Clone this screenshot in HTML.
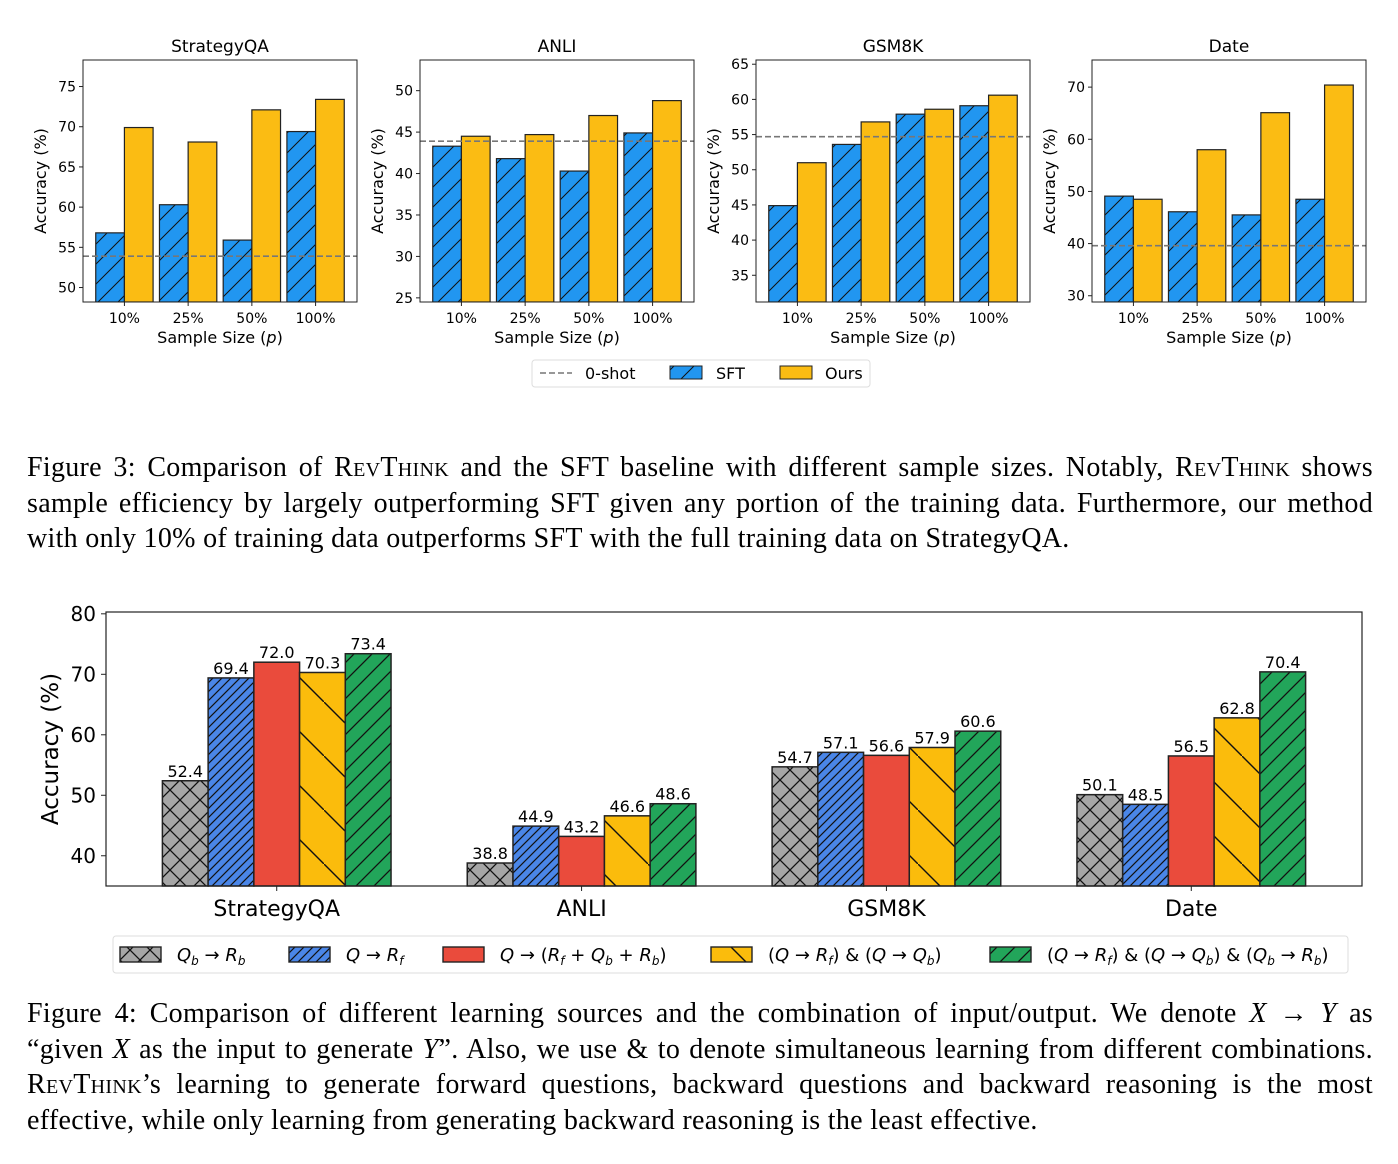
<!DOCTYPE html>
<html><head><meta charset="utf-8">
<style>
body{margin:0;background:#fff;width:1398px;height:1164px;overflow:hidden;position:relative;}
svg{position:absolute;left:0;top:0;}
.cap{position:absolute;left:27px;width:1346px;font-family:"Liberation Serif",serif;font-size:28px;letter-spacing:0.3px;line-height:35.5px;color:#000;}
.cap .ln{white-space:nowrap;text-align:justify;text-align-last:justify;}
.cap .ln.last{text-align-last:left;}
.sc{font-variant:small-caps;}
</style></head><body>
<svg id="fig" width="1398" height="1164" viewBox="0 0 1398 1164" font-family="DejaVu Sans, Liberation Sans, sans-serif">
<defs>
<pattern id="hSFT" patternUnits="userSpaceOnUse" width="20" height="20"><rect width="20" height="20" fill="#2196f0"/><path d="M-5,5 L5,-5 M0,20 L20,0 M15,25 L25,15" stroke="#111" stroke-width="1"/></pattern>
<pattern id="hX" patternUnits="userSpaceOnUse" width="20" height="20"><rect width="20" height="20" fill="#a6a6a6"/><path d="M0,0 L20,20 M0,20 L20,0" stroke="#111" stroke-width="1.3"/></pattern>
<pattern id="hB" patternUnits="userSpaceOnUse" width="9" height="9"><rect width="9" height="9" fill="#4a86e8"/><path d="M-3,3 L3,-3 M0,9 L9,0 M6,12 L12,6" stroke="#111" stroke-width="1.2"/></pattern>
<pattern id="hY" patternUnits="userSpaceOnUse" width="54" height="54"><rect width="54" height="54" fill="#fbbc0c"/><path d="M-10,-10 L64,64" stroke="#111" stroke-width="1.4"/></pattern>
<pattern id="hG" patternUnits="userSpaceOnUse" width="18" height="18"><rect width="18" height="18" fill="#22a55a"/><path d="M-5,5 L5,-5 M0,18 L18,0 M13,23 L23,13" stroke="#111" stroke-width="1.3"/></pattern>
</defs>
<g id="topfig"></g><g id="bottomfig"></g>
</svg>

<div class="cap" style="top:450px">
<div class="ln">Figure 3: Comparison of <span class="sc">RevThink</span> and the SFT baseline with different sample sizes. Notably, <span class="sc">RevThink</span> shows</div>
<div class="ln">sample efficiency by largely outperforming SFT given any portion of the training data. Furthermore, our method</div>
<div class="ln last">with only 10% of training data outperforms SFT with the full training data on StrategyQA.</div>
</div>
<div class="cap" style="top:996px">
<div class="ln">Figure 4: Comparison of different learning sources and the combination of input/output. We denote <i>X</i> → <i>Y</i> as</div>
<div class="ln">“given <i>X</i> as the input to generate <i>Y</i>”. Also, we use &amp; to denote simultaneous learning from different combinations.</div>
<div class="ln"><span class="sc">RevThink</span>’s learning to generate forward questions, backward questions and backward reasoning is the most</div>
<div class="ln last">effective, while only learning from generating backward reasoning is the least effective.</div>
</div>

<script>
const NS="http://www.w3.org/2000/svg";
// ---- Figure 3 data ----
const sizes=["10%","25%","50%","100%"];
const panels=["StrategyQA","ANLI","GSM8K","Date"];
const sftVals=[[56.8,60.3,55.9,69.4],[43.3,41.8,40.3,44.9],[44.9,53.6,57.9,59.1],[49.1,46.1,45.5,48.5]];
const oursVals=[[69.9,68.1,72.1,73.4],[44.5,44.7,47.0,48.8],[51.0,56.8,58.6,60.6],[48.5,58.0,65.1,70.4]];
const zeroShot=[53.9,43.9,54.7,39.6];
const yTicks=[[50,55,60,65,70,75],[25,30,35,40,45,50],[35,40,45,50,55,60,65],[30,40,50,60,70]];
const yLims=[[48.2,78.3],[24.5,53.7],[31.2,65.6],[28.8,75.2]];
// ---- Figure 4 data ----
const datasets=["StrategyQA","ANLI","GSM8K","Date"];
const srcVals=[[52.4,69.4,72.0,70.3,73.4],[38.8,44.9,43.2,46.6,48.6],[54.7,57.1,56.6,57.9,60.6],[50.1,48.5,56.5,62.8,70.4]];
const bTicks=[40,50,60,70,80];

function el(tag,attrs,parent,txt){const e=document.createElementNS(NS,tag);for(const k in attrs)e.setAttribute(k,attrs[k]);if(txt!==undefined)e.textContent=txt;parent.appendChild(e);return e;}

const topG=document.getElementById('topfig');
const pLeft=[83,420,756,1092],pW=274,pT=60,pB=302;
panels.forEach((name,pi)=>{
  const g=el('g',{},topG);
  
  
  const x0=pLeft[pi];
  const lo=yLims[pi][0],hi=yLims[pi][1];
  const y=v=>pB-(v-lo)/(hi-lo)*(pB-pT);
  const x=u=>x0+(u+0.65)/4.3*pW;
  const cp=el('clipPath',{id:'cp'+pi},el('defs',{},g));
  el('rect',{x:x0,y:pT,width:pW,height:pB-pT},cp);
  const bars=el('g',{'clip-path':'url(#cp'+pi+')'},g);
  sizes.forEach((s,i)=>{
    const w=0.45/4.3*pW;
    const b1=el('rect',{x:x(i)-w,y:y(sftVals[pi][i]),width:w,height:pB-y(sftVals[pi][i]),fill:'url(#hSFT)',stroke:'#222','stroke-width':1.2},bars);
    
    
    const b2=el('rect',{x:x(i),y:y(oursVals[pi][i]),width:w,height:pB-y(oursVals[pi][i]),fill:'#fbbc13',stroke:'#222','stroke-width':1.2},bars);
    
    
    el('line',{x1:x(i),x2:x(i),y1:pB,y2:pB+4,stroke:'#222'},g);
    const t=el('text',{x:x(i),y:pB+21,'font-size':14,'text-anchor':'middle'},g,s);
    
    
  });
  const zl=el('line',{x1:x0,x2:x0+pW,y1:y(zeroShot[pi]),y2:y(zeroShot[pi]),stroke:'#777','stroke-width':1.6,'stroke-dasharray':'6,3'},g);
  
  
  yTicks[pi].forEach(v=>{
    el('line',{x1:x0-4,x2:x0,y1:y(v),y2:y(v),stroke:'#222'},g);
    const t=el('text',{x:x0-7,y:y(v)+5,'font-size':14,'text-anchor':'end'},g,v);
    
    
  });
  el('rect',{x:x0,y:pT,width:pW,height:pB-pT,fill:'none',stroke:'#222','stroke-width':1},g);
  const tt=el('text',{x:x0+pW/2,y:52,'font-size':17,'text-anchor':'middle'},g,name);
  
  
  const xl=el('text',{x:x0+pW/2,y:343,'font-size':16,'text-anchor':'middle'},g);
  xl.innerHTML='Sample Size (<tspan font-style="italic">p</tspan>)';
  
  
  const yl=el('text',{x:0,y:0,'font-size':16,'text-anchor':'middle',transform:'translate('+(x0-37)+','+((pT+pB)/2)+') rotate(-90)'},g,'Accuracy (%)');
  
  
});
// top legend
{
  const g=el('g',{},topG);
  
  
  el('rect',{x:532,y:360,width:338,height:27,rx:3,fill:'#fff',stroke:'#ddd'},g);
  el('line',{x1:540,x2:572,y1:373,y2:373,stroke:'#777','stroke-width':1.6,'stroke-dasharray':'6,3'},g);
  el('text',{x:585,y:379,'font-size':16},g,'0-shot');
  el('rect',{x:670,y:366,width:32,height:13,fill:'url(#hSFT)',stroke:'#222'},g);
  el('text',{x:716,y:379,'font-size':16},g,'SFT');
  el('rect',{x:780,y:366,width:32,height:13,fill:'#fbbc13',stroke:'#222'},g);
  el('text',{x:825,y:379,'font-size':16},g,'Ours');
}
// ---- Figure 4 ----
const bot=document.getElementById('bottomfig');
const bL=106,bR=1362,bT=612,bB=886,ylo=35,yhi=80.3;
const by=v=>bB-(v-ylo)/(yhi-ylo)*(bB-bT);
const bx=u=>bL+(u+0.56)/4.12*(bR-bL);
const fills=['url(#hX)','url(#hB)','#ea4b3c','url(#hY)','url(#hG)'];
datasets.forEach((d,gi)=>{
  const w=0.15/4.12*(bR-bL);
  srcVals[gi].forEach((v,si)=>{
    const cx=bx(gi)+(si-2)*w;
    const r=el('rect',{x:cx-w/2,y:by(v),width:w,height:bB-by(v),fill:fills[si],stroke:'#222','stroke-width':1.5},bot);
    
    
    const t=el('text',{x:cx,y:by(v)-4,'font-size':16,'text-anchor':'middle'},bot,v.toFixed(1));
    
    
  });
  el('line',{x1:bx(gi),x2:bx(gi),y1:bB,y2:bB+5,stroke:'#222'},bot);
  const t=el('text',{x:bx(gi),y:916,'font-size':22,'text-anchor':'middle'},bot,d);
  
  
});
bTicks.forEach(v=>{
  el('line',{x1:bL-5,x2:bL,y1:by(v),y2:by(v),stroke:'#222'},bot);
  const t=el('text',{x:bL-10,y:by(v)+7,'font-size':20,'text-anchor':'end'},bot,v);
  
  
});
el('rect',{x:bL,y:bT,width:bR-bL,height:bB-bT,fill:'none',stroke:'#222','stroke-width':1.2},bot);
{
  const yl=el('text',{x:0,y:0,'font-size':23,'text-anchor':'middle',transform:'translate(58,'+((bT+bB)/2)+') rotate(-90)'},bot,'Accuracy (%)');
  
  
  const g=el('g',{},bot);
  
  
  el('rect',{x:113,y:936,width:1235,height:37,rx:3,fill:'#fff',stroke:'#ddd'},g);
  const lx=[120,289,443,711,990];
  const labels=['<tspan font-style="italic">Q</tspan><tspan font-size="12" dy="4" font-style="italic">b</tspan><tspan dy="-4"> → </tspan><tspan font-style="italic">R</tspan><tspan font-size="12" dy="4" font-style="italic">b</tspan>',
   '<tspan font-style="italic">Q</tspan> → <tspan font-style="italic">R</tspan><tspan font-size="12" dy="4" font-style="italic">f</tspan>',
   '<tspan font-style="italic">Q</tspan> → (<tspan font-style="italic">R</tspan><tspan font-size="12" dy="4" font-style="italic">f</tspan><tspan dy="-4"> + </tspan><tspan font-style="italic">Q</tspan><tspan font-size="12" dy="4" font-style="italic">b</tspan><tspan dy="-4"> + </tspan><tspan font-style="italic">R</tspan><tspan font-size="12" dy="4" font-style="italic">b</tspan><tspan dy="-4">)</tspan>',
   '(<tspan font-style="italic">Q</tspan> → <tspan font-style="italic">R</tspan><tspan font-size="12" dy="4" font-style="italic">f</tspan><tspan dy="-4">) &amp; (</tspan><tspan font-style="italic">Q</tspan> → <tspan font-style="italic">Q</tspan><tspan font-size="12" dy="4" font-style="italic">b</tspan><tspan dy="-4">)</tspan>',
   '(<tspan font-style="italic">Q</tspan> → <tspan font-style="italic">R</tspan><tspan font-size="12" dy="4" font-style="italic">f</tspan><tspan dy="-4">) &amp; (</tspan><tspan font-style="italic">Q</tspan> → <tspan font-style="italic">Q</tspan><tspan font-size="12" dy="4" font-style="italic">b</tspan><tspan dy="-4">) &amp; (</tspan><tspan font-style="italic">Q</tspan><tspan font-size="12" dy="4" font-style="italic">b</tspan><tspan dy="-4"> → </tspan><tspan font-style="italic">R</tspan><tspan font-size="12" dy="4" font-style="italic">b</tspan><tspan dy="-4">)</tspan>'];
  lx.forEach((x,i)=>{
    el('rect',{x:x,y:947,width:41,height:15,fill:fills[i],stroke:'#222','stroke-width':1.4},g);
    const t=el('text',{x:x+57,y:961,'font-size':18},g);
    t.innerHTML=labels[i];
  });
}
</script>
</body></html>
